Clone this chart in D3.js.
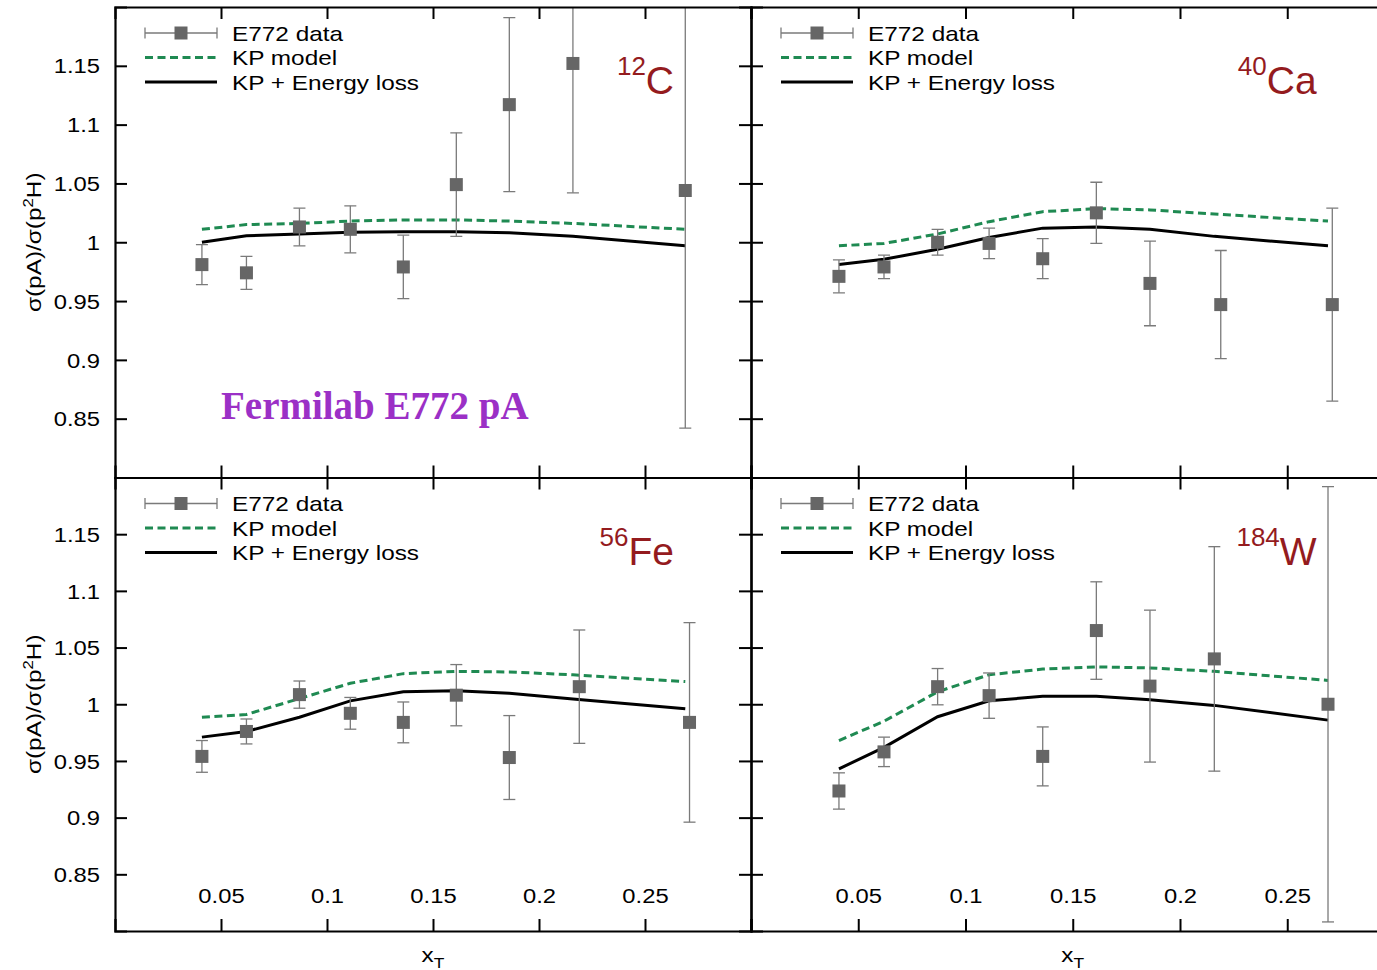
<!DOCTYPE html>
<html>
<head>
<meta charset="utf-8">
<script src="https://cdn.jsdelivr.net/npm/d3@7"></script>
<style>
  body { margin: 0; background: #fff; }
  svg { display: block; }
</style>
</head>
<body>
<svg id="chart" width="1377" height="970"></svg>
<script>
// x_T bin centres for the data points and for the model curves
const xTDataA = [0.041, 0.062, 0.087, 0.111, 0.136, 0.161, 0.186, 0.216, 0.269];
const xTDataB = [0.041, 0.062, 0.087, 0.111, 0.136, 0.161, 0.186, 0.219, 0.271];
const xTModel = [0.041, 0.062, 0.087, 0.111, 0.136, 0.161, 0.186, 0.216, 0.269];

// 12C
const ratioC  = [0.981, 0.974, 1.013, 1.011, 0.979, 1.049, 1.117, 1.152, 1.044];
const errC    = [0.017, 0.014, 0.016, 0.020, 0.027, 0.044, 0.074, 0.110, 0.202];
const kpC     = [1.011, 1.015, 1.016, 1.018, 1.019, 1.019, 1.018, 1.016, 1.011];
const elossC  = [1.000, 1.0055, 1.007, 1.0085, 1.009, 1.009, 1.008, 1.005, 0.997];

// 40Ca
const ratioCa = [0.971, 0.979, 1.000, 0.999, 0.986, 1.025, 0.965, 0.947, 0.947];
const errCa   = [0.014, 0.010, 0.011, 0.013, 0.017, 0.026, 0.036, 0.046, 0.082];
const kpCa    = [0.997, 0.999, 1.007, 1.0175, 1.026, 1.0286, 1.0275, 1.024, 1.018];
const elossCa = [0.981, 0.9855, 0.994, 1.004, 1.012, 1.013, 1.011, 1.005, 0.997];

// 56Fe
const ratioFe = [0.954, 0.976, 1.0085, 0.992, 0.984, 1.008, 0.953, 1.0155, 0.984];
const errFe   = [0.014, 0.011, 0.012, 0.014, 0.018, 0.027, 0.037, 0.050, 0.088];
const kpFe    = [0.9885, 0.991, 1.005, 1.0185, 1.027, 1.029, 1.0285, 1.026, 1.020];
const elossFe = [0.971, 0.976, 0.9885, 1.003, 1.011, 1.012, 1.0097, 1.0047, 0.996];

// 184W
const ratioW  = [0.9235, 0.958, 1.0155, 1.0076, 0.954, 1.065, 1.016, 1.040, 1.000];
const errW    = [0.016, 0.013, 0.016, 0.020, 0.026, 0.043, 0.067, 0.099, 0.192];
const kpW     = [0.968, 0.985, 1.011, 1.026, 1.031, 1.033, 1.032, 1.029, 1.021];
const elossW  = [0.943, 0.962, 0.989, 1.003, 1.007, 1.007, 1.004, 0.999, 0.986];

// axis ticks and legend entries
const xTicks = [0.05, 0.1, 0.15, 0.2, 0.25];
const yTicks = [0.85, 0.9, 0.95, 1.0, 1.05, 1.1, 1.15];
const legendLabels = ["E772 data", "KP model", "KP + Energy loss"];
const yTitle = ["σ(pA)/σ(p", "2", "H)"];
const xTitle = ["x", "T"];
const headline = "Fermilab E772 pA";

const SANS = "'Liberation Sans', Arial, Helvetica, sans-serif";
const SERIF = "'Liberation Serif', 'Times New Roman', serif";
const STRETCH = 1.16;
const GREEN = "#1f8a52";
const MARK = "#666666";
const BAR = "#7a7a7a";
const NUCLEUS = "#941b1e";

const svg = d3.select("#chart");

// Re-anchor text so it can be widened horizontally around its own position
function widen(sel, sx) {
  sel.each(function () {
    const t = d3.select(this);
    const x = +t.attr("x") || 0, y = +t.attr("y") || 0;
    const prev = t.attr("transform") || "";
    t.attr("x", 0).attr("y", 0)
     .attr("transform", `${prev} translate(${x},${y}) scale(${sx},1)`);
  });
}

const panels = [
  { id: "C",  x: xTDataA, y: ratioC,  e: errC,  kp: kpC,  el: elossC,  mass: "12",  sym: "C",
    xr: [115, 751], yr: [477.5, 7], left: true, bottom: false, headline: true },
  { id: "Ca", x: xTDataB, y: ratioCa, e: errCa, kp: kpCa, el: elossCa, mass: "40",  sym: "Ca",
    xr: [751, 1394.5], yr: [477.5, 7], left: false, bottom: false },
  { id: "Fe", x: xTDataB, y: ratioFe, e: errFe, kp: kpFe, el: elossFe, mass: "56",  sym: "Fe",
    xr: [115, 751], yr: [931, 477.5], left: true, bottom: true },
  { id: "W",  x: xTDataA, y: ratioW,  e: errW,  kp: kpW,  el: elossW,  mass: "184", sym: "W",
    xr: [751, 1394.5], yr: [931, 477.5], left: false, bottom: true }
];

const defs = svg.append("defs");

panels.forEach(p => {
  const xs = d3.scaleLinear().domain([0, 0.3]).range(p.xr);
  const ys = d3.scaleLinear().domain([0.8, 1.2]).range(p.yr);
  const g = svg.append("g").attr("class", "panel-" + p.id);

  defs.append("clipPath").attr("id", "clip-" + p.id)
    .append("rect")
    .attr("x", p.xr[0]).attr("y", p.yr[1])
    .attr("width", p.xr[1] - p.xr[0]).attr("height", p.yr[0] - p.yr[1]);

  const plot = g.append("g").attr("clip-path", `url(#clip-${p.id})`);

  // model curves
  const line = d3.line().x(d => xs(d[0])).y(d => ys(d[1]));
  plot.append("path")
    .datum(xTModel.map((x, i) => [x, p.kp[i]]))
    .attr("d", line).attr("fill", "none")
    .attr("stroke", GREEN).attr("stroke-width", 3)
    .attr("stroke-dasharray", "8,4.5");
  plot.append("path")
    .datum(xTModel.map((x, i) => [x, p.el[i]]))
    .attr("d", line).attr("fill", "none")
    .attr("stroke", "#000").attr("stroke-width", 3);

  // data with error bars
  const pts = p.x.map((x, i) => ({ x, y: p.y[i], e: p.e[i] }));
  const bars = plot.append("g").attr("stroke", BAR).attr("stroke-width", 1.3);
  bars.selectAll("line.v").data(pts).join("line").attr("class", "v")
    .attr("x1", d => xs(d.x)).attr("x2", d => xs(d.x))
    .attr("y1", d => ys(d.y - d.e)).attr("y2", d => ys(d.y + d.e));
  bars.selectAll("line.lo").data(pts).join("line").attr("class", "lo")
    .attr("x1", d => xs(d.x) - 6).attr("x2", d => xs(d.x) + 6)
    .attr("y1", d => ys(d.y - d.e)).attr("y2", d => ys(d.y - d.e));
  bars.selectAll("line.hi").data(pts).join("line").attr("class", "hi")
    .attr("x1", d => xs(d.x) - 6).attr("x2", d => xs(d.x) + 6)
    .attr("y1", d => ys(d.y + d.e)).attr("y2", d => ys(d.y + d.e));
  plot.selectAll("rect.pt").data(pts).join("rect").attr("class", "pt")
    .attr("x", d => xs(d.x) - 6.5).attr("y", d => ys(d.y) - 6.5)
    .attr("width", 13).attr("height", 13).attr("fill", MARK);

  // frame axes with inward ticks
  const T = 12;
  const axL = g.append("g").attr("transform", `translate(${p.xr[0]},0)`)
    .call(d3.axisLeft(ys).tickValues(yTicks).tickSize(-T).tickPadding(15)
      .tickFormat(p.left ? d3.format("") : () => ""));
  const axR = g.append("g").attr("transform", `translate(${p.xr[1]},0)`)
    .call(d3.axisRight(ys).tickValues(yTicks).tickSize(-T).tickFormat(() => ""));
  const axT = g.append("g").attr("transform", `translate(0,${p.yr[1]})`)
    .call(d3.axisTop(xs).tickValues(xTicks).tickSize(-T).tickFormat(() => ""));
  const axB = g.append("g").attr("transform", `translate(0,${p.yr[0]})`)
    .call(d3.axisBottom(xs).tickValues(xTicks).tickSize(-T).tickPadding(0)
      .tickFormat(p.bottom ? d3.format("") : () => ""));

  [axL, axR, axT, axB].forEach(a => {
    a.select(".domain").attr("stroke", "#000").attr("stroke-width", 2.2);
    a.selectAll(".tick line").attr("stroke", "#000").attr("stroke-width", 2);
    a.selectAll("text").attr("font-family", SANS).attr("font-size", 20.5).attr("fill", "#000");
  });
  axL.selectAll("text").attr("dy", "0.35em");
  widen(axL.selectAll("text"), STRETCH);
  axB.selectAll("text").attr("y", -28).attr("dy", 0);
  widen(axB.selectAll("text"), STRETCH);

  // legend
  const lx = p.xr[0], ly = p.yr[1];
  const lg = g.append("g");
  const rows = [26, 50.5, 75];
  const r0 = ly + rows[0];
  lg.append("line").attr("x1", lx + 30).attr("x2", lx + 102).attr("y1", r0).attr("y2", r0)
    .attr("stroke", BAR).attr("stroke-width", 1.3);
  [lx + 30, lx + 102].forEach(cx =>
    lg.append("line").attr("x1", cx).attr("x2", cx).attr("y1", r0 - 5.5).attr("y2", r0 + 5.5)
      .attr("stroke", BAR).attr("stroke-width", 1.3));
  lg.append("rect").attr("x", lx + 66 - 6.5).attr("y", r0 - 6.5)
    .attr("width", 13).attr("height", 13).attr("fill", MARK);
  lg.append("line").attr("x1", lx + 30).attr("x2", lx + 102)
    .attr("y1", ly + rows[1]).attr("y2", ly + rows[1])
    .attr("stroke", GREEN).attr("stroke-width", 3).attr("stroke-dasharray", "8,4.5");
  lg.append("line").attr("x1", lx + 30).attr("x2", lx + 102)
    .attr("y1", ly + rows[2]).attr("y2", ly + rows[2])
    .attr("stroke", "#000").attr("stroke-width", 3);
  const lt = lg.selectAll("text").data(legendLabels).join("text")
    .attr("x", lx + 117).attr("y", (d, i) => ly + rows[i] + 7.6)
    .attr("font-family", SANS).attr("font-size", 21).attr("fill", "#000")
    .text(d => d);
  widen(lt, STRETCH);

  // nucleus label, e.g. 12C
  const nl = g.append("text")
    .attr("x", xs(0.2637)).attr("y", ly + 87)
    .attr("text-anchor", "end").attr("font-family", SANS).attr("fill", NUCLEUS);
  nl.append("tspan").attr("font-size", 26).attr("dy", -19).text(p.mass);
  nl.append("tspan").attr("font-size", 39).attr("dy", 19).text(p.sym);

  if (p.headline) {
    g.append("text")
      .attr("x", xs(0.05)).attr("y", ly + 412)
      .attr("font-family", SERIF).attr("font-weight", "bold")
      .attr("font-size", 39).attr("fill", "#9b30c6")
      .text(headline);
  }

  // axis titles
  if (p.left) {
    const cy = (p.yr[0] + p.yr[1]) / 2;
    const yt = g.append("text")
      .attr("transform", `translate(41,${cy}) rotate(-90) scale(${STRETCH},1)`)
      .attr("text-anchor", "middle").attr("font-family", SANS)
      .attr("font-size", 21).attr("fill", "#000");
    yt.append("tspan").text(yTitle[0]);
    yt.append("tspan").attr("font-size", 14.5).attr("dy", -8).text(yTitle[1]);
    yt.append("tspan").attr("dy", 8).text(yTitle[2]);
  }
  if (p.bottom) {
    const cx = xs(0.15);
    const xt = g.append("text")
      .attr("transform", `translate(${cx},962) scale(${STRETCH},1)`)
      .attr("text-anchor", "middle").attr("font-family", SANS)
      .attr("font-size", 21).attr("fill", "#000");
    xt.append("tspan").text(xTitle[0]);
    xt.append("tspan").attr("font-size", 15).attr("dy", 6).text(xTitle[1]);
  }
});
</script>
</body>
</html>
